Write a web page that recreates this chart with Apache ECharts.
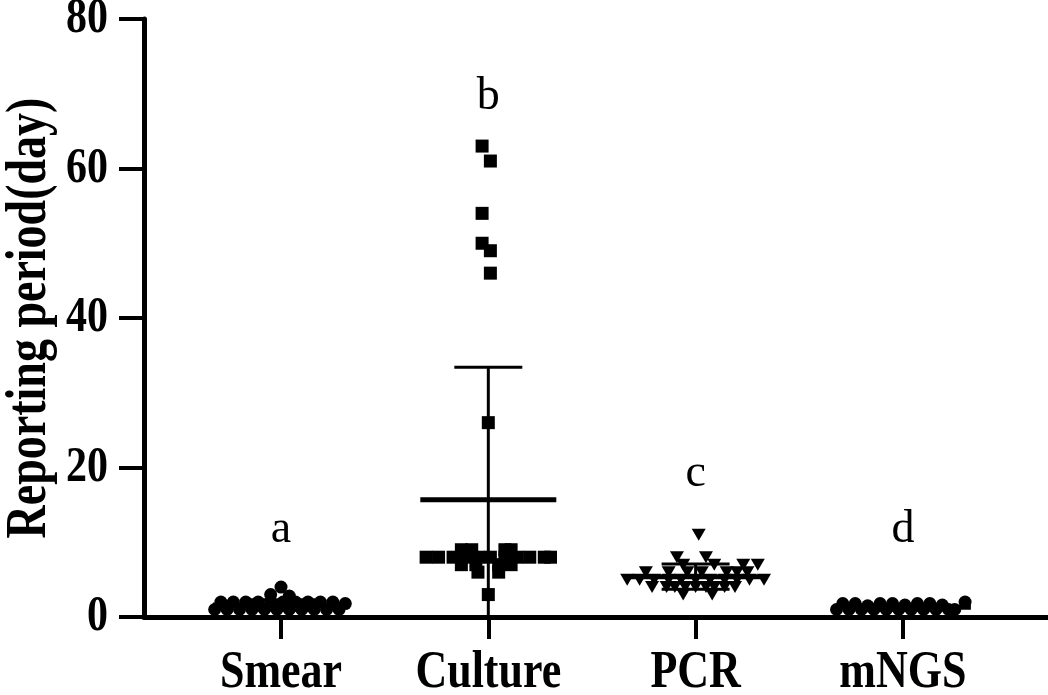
<!DOCTYPE html>
<html><head><meta charset="utf-8">
<script src="https://cdn.jsdelivr.net/npm/echarts@6/dist/echarts.min.js"></script>
<style>html,body{margin:0;padding:0;background:#fff}#c{width:1048px;height:695px}</style>
</head><body><div id="c"></div>
<script>
const categories = ['Smear', 'Culture', 'PCR', 'mNGS'];
const yTicks = [0, 20, 40, 60, 80];
const yTitle = 'Reporting period(day)';
const groupLetters = ['a', 'b', 'c', 'd'];
const letterHeights = [11.6, 69.6, 19.1, 11.6];
const means = [1.6, 15.7, 5.4, 1.3];
const sds = [0.7, 17.7, 1.7, 0.4];

const smearJitter = [-0.32,-0.29,-0.26,-0.23,-0.2,-0.17,-0.14,-0.11,-0.08,-0.05,-0.02,0.01,0.04,0.07,0.1,0.13,0.16,0.19,0.22,0.25,0.28,0.31,-0.05,0.0,0.04];
const smearValues = [1,2,1,2,1,2,1,2,1,2,1,2,1,2,1,2,1,2,1,2,1,1.8,3,4,2.8];

const cultureJitter = [-0.03,0.01,-0.03,-0.03,0.01,0.01,0.0,
  -0.30,-0.24,-0.17,-0.11,-0.05,0.01,0.08,0.14,0.20,0.27,0.30,
  -0.13,-0.08,0.08,0.11,
  -0.13,-0.06,0.05,0.11,
  -0.05,0.05,
  0.0];
const cultureValues = [63,61,54,50,49,46,26,
  8,8,8,8,8,8,8,8,8,8,8,
  9,9,9,9,
  7,7,7,7,
  6,6,
  3];

const pcrJitter = [0.015,
  -0.09,0.05,
  -0.06,0.09,0.23,0.30,
  -0.24,-0.13,-0.04,0.03,0.15,0.20,0.25,
  -0.33,-0.27,-0.20,-0.13,-0.07,0.0,0.07,0.14,0.20,0.26,0.33,
  -0.21,-0.14,-0.10,-0.05,0.0,0.05,0.09,0.14,0.19,
  -0.06,0.08];
const pcrValues = [11,
  8,8,
  7,7,7,7,
  6,6,6,6,6,6,6,
  5,5,5,5,5,5,5,5,5,5,5,
  4,4,4,4,4,4,4,4,4,
  3,3];

const mngsJitter = [-0.32,-0.29,-0.26,-0.23,-0.2,-0.17,-0.14,-0.11,-0.08,-0.05,-0.02,0.01,0.04,0.07,0.1,0.13,0.16,0.19,0.22,0.25,0.30];
const mngsValues = [1,1.8,1,1.8,1,1.5,1,1.8,1,1.8,1,1.6,1,1.8,1,1.8,1,1.6,1,1,2];

function pts(idx, jit, vals) { return vals.map((v, k) => [idx + jit[k], v]); }

const font = '"Liberation Serif","Times New Roman",serif';
const chart = echarts.init(document.getElementById('c'), null, {renderer: 'canvas'});

const markerBase = {type: 'scatter', itemStyle: {color: '#000', opacity: 1}, z: 3, silent: true};
const TEXT_STRETCH = 1.22;

chart.setOption({
  animation: false,
  backgroundColor: '#fff',
  grid: {left: 144, right: 0, top: 19, bottom: 78, containLabel: false, outerBoundsMode: 'none'},
  xAxis: {
    type: 'value', min: -0.661, max: 3.70,
    splitLine: {show: false},
    axisLine: {show: true, onZero: true, lineStyle: {color: '#000', width: 5}},
    axisTick: {show: true, customValues: [0, 1, 2, 3], length: 22, lineStyle: {color: '#000', width: 4}},
    axisLabel: {show: false}
  },
  yAxis: {
    type: 'value', min: 0, max: 80, interval: 20,
    splitLine: {show: false},
    axisLine: {show: true, onZero: false, lineStyle: {color: '#000', width: 5}},
    axisTick: {show: true, length: 25, lineStyle: {color: '#000', width: 4}},
    axisLabel: {show: false}
  },
  series: [
    {
      type: 'custom', z: 2, silent: true,
      data: categories.map((c, i) => [i, means[i], sds[i]]),
      renderItem(params, api) {
        const x = api.value(0), m = api.value(1), s = api.value(2);
        const pm = api.coord([x, m]);
        const lo = api.coord([x, Math.max(0, m - s)]);
        const hi = api.coord([x, m + s]);
        const children = [
          {type: 'line', shape: {x1: pm[0], y1: lo[1], x2: pm[0], y2: hi[1]}, style: {stroke: '#000', lineWidth: 3}},
          {type: 'line', shape: {x1: pm[0] - 34, y1: hi[1], x2: pm[0] + 34, y2: hi[1]}, style: {stroke: '#000', lineWidth: 3}},
          {type: 'line', shape: {x1: pm[0] - 68, y1: pm[1], x2: pm[0] + 68, y2: pm[1]}, style: {stroke: '#000', lineWidth: 5}}
        ];
        if (m - s > 0) children.push({type: 'line', shape: {x1: pm[0] - 34, y1: lo[1], x2: pm[0] + 34, y2: lo[1]}, style: {stroke: '#000', lineWidth: 3}});
        return {type: 'group', children};
      }
    },
    Object.assign({}, markerBase, {symbol: 'circle', symbolSize: 13, data: pts(0, smearJitter, smearValues)}),
    Object.assign({}, markerBase, {symbol: 'rect', symbolSize: 13, data: pts(1, cultureJitter, cultureValues)}),
    Object.assign({}, markerBase, {symbol: 'path://M0,0 L12,0 L6,10 Z', symbolSize: [14, 12], data: pts(2, pcrJitter, pcrValues)}),
    Object.assign({}, markerBase, {symbol: 'circle', symbolSize: 13, data: pts(3, mngsJitter, mngsValues)}),
    {
      type: 'custom', z: 4, silent: true,
      data: groupLetters.map((l, i) => [i, letterHeights[i]]),
      renderItem(params, api) {
        const p = api.coord([api.value(0), api.value(1)]);
        return {type: 'text', x: p[0], y: p[1], style: {text: groupLetters[params.dataIndex], fontFamily: font, fontSize: 46, fill: '#000', align: 'center', verticalAlign: 'middle'}};
      }
    },
    {
      // category (x axis) labels
      type: 'custom', z: 4, silent: true,
      data: categories.map((c, i) => [i, 0]),
      renderItem(params, api) {
        const p = api.coord([api.value(0), api.value(1)]);
        return {type: 'text', x: p[0], y: p[1] + 56, scaleY: TEXT_STRETCH,
          style: {text: categories[params.dataIndex], fontFamily: font, fontWeight: 'bold', fontSize: 44, fill: '#000', align: 'center', verticalAlign: 'middle'}};
      }
    },
    {
      // y tick labels and y axis title
      type: 'custom', z: 4, silent: true,
      data: yTicks.map(v => [0, v]),
      renderItem(params, api) {
        const p = api.coord([api.value(0), api.value(1)]);
        const cs = params.coordSys;
        const children = [{type: 'text', x: cs.x - 36, y: p[1], scaleY: TEXT_STRETCH,
          style: {text: String(yTicks[params.dataIndex]), fontFamily: font, fontWeight: 'bold', fontSize: 42, fill: '#000', align: 'right', verticalAlign: 'middle'}}];
        if (params.dataIndex === 0) {
          children.push({type: 'text', x: cs.x - 114, y: cs.y + cs.height / 2, rotation: Math.PI / 2, scaleY: TEXT_STRETCH,
            style: {text: yTitle, fontFamily: font, fontWeight: 'bold', fontSize: 46, fill: '#000', align: 'center', verticalAlign: 'middle'}});
        }
        return {type: 'group', children};
      }
    }
  ]
});
</script>
</body></html>
